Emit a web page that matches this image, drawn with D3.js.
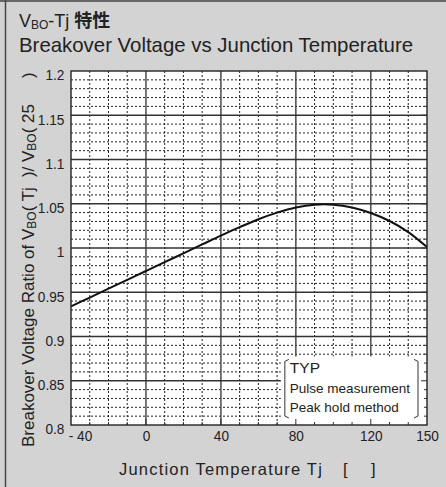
<!DOCTYPE html>
<html>
<head>
<meta charset="utf-8">
<script src="https://d3js.org/d3.v7.min.js"></script>
<style>
  body { margin: 0; background: #d3d3d3; }
  svg { display: block; font-family: "Liberation Sans", Arial, sans-serif; }
  text { white-space: pre; }
</style>
</head>
<body>
<script>
// temperature (deg C) and VBO(Tj)/VBO(25) ratio
var temps  = [-40, -30, -20, -10, 0, 10, 20, 30, 40, 50, 60, 70, 80, 90, 100, 110, 120, 130, 140, 150];
var ratios = [0.934, 0.944, 0.954, 0.964, 0.974, 0.984, 0.994, 1.004, 1.014, 1.0235,
              1.0325, 1.0400, 1.0458, 1.0490, 1.0490, 1.0458, 1.0395, 1.0305, 1.0180, 1.0010];
var xTicks = [-40, 0, 40, 80, 120, 150];
var yTicks = [0.8, 0.85, 0.9, 0.95, 1, 1.05, 1.1, 1.15, 1.2];
var legendLines = ["TYP", "Pulse measurement", "Peak hold method"];

var width = 446, height = 487;

var svg = d3.select("body").append("svg")
    .attr("width", width)
    .attr("height", height);

// outer frame
svg.append("rect").attr("width", width).attr("height", height).attr("fill", "#d3d3d3");
svg.append("line").attr("x1", 0).attr("x2", width).attr("y1", 1).attr("y2", 1)
    .attr("stroke", "#444").attr("stroke-width", 1.5);
svg.append("line").attr("x1", 5.5).attr("x2", 5.5).attr("y1", 0).attr("y2", height)
    .attr("stroke", "#444").attr("stroke-width", 1.5);

var x = d3.scaleLinear().domain([-40, 150]).range([71, 427]);
var y = d3.scaleLinear().domain([0.8, 1.2]).range([425, 71]);

// titles
var t1 = svg.append("text").attr("x", 19).attr("y", 27).attr("font-size", 18).attr("fill", "#222");
t1.append("tspan").text("V");
t1.append("tspan").attr("font-size", 12).attr("dy", 2).text("BO");
t1.append("tspan").attr("dy", -2).text("-Tj ");
t1.append("tspan").attr("font-weight", "bold")
  .attr("font-family", "'Noto Sans CJK JP', sans-serif").text("特性");

svg.append("text").attr("x", 19).attr("y", 52).attr("font-size", 20.4).attr("fill", "#222")
  .text("Breakover Voltage vs Junction Temperature");

// plot background
svg.append("rect")
  .attr("x", x(-40)).attr("y", y(1.2))
  .attr("width", x(150) - x(-40)).attr("height", y(0.8) - y(1.2))
  .attr("fill", "#fff");

var grid = svg.append("g");
var minorX = d3.range(-30, 150, 10).filter(function(d) { return d % 40 !== 0; });
var majorX = [0, 40, 80, 120];
var minorY = d3.range(81, 120).filter(function(d) { return d % 5 !== 0; }).map(function(d) { return d / 100; });
var majorY = [0.85, 0.9, 0.95, 1, 1.05, 1.1, 1.15];

grid.selectAll(".mx").data(minorX).enter().append("line")
  .attr("x1", d => x(d)).attr("x2", d => x(d))
  .attr("y1", y(1.2)).attr("y2", y(0.8))
  .attr("stroke", "#222").attr("stroke-width", 1).attr("stroke-dasharray", "2,2");
grid.selectAll(".my").data(minorY).enter().append("line")
  .attr("x1", x(-40)).attr("x2", x(150))
  .attr("y1", d => y(d)).attr("y2", d => y(d))
  .attr("stroke", "#222").attr("stroke-width", 1).attr("stroke-dasharray", "2,2");
grid.selectAll(".MX").data(majorX).enter().append("line")
  .attr("x1", d => x(d)).attr("x2", d => x(d))
  .attr("y1", y(1.2)).attr("y2", y(0.8))
  .attr("stroke", "#555").attr("stroke-width", 1.6);
grid.selectAll(".MY").data(majorY).enter().append("line")
  .attr("x1", x(-40)).attr("x2", x(150))
  .attr("y1", d => y(d)).attr("y2", d => y(d))
  .attr("stroke", "#333").attr("stroke-width", 1.4);

// legend box covers the grid
var lx0 = x(72), ly0 = y(0.8775);
svg.append("rect")
  .attr("x", lx0).attr("y", ly0)
  .attr("width", x(150) - lx0).attr("height", y(0.8) - ly0)
  .attr("fill", "#fff");

// inner ticks along bottom and right edges
svg.selectAll(".bt").data(d3.range(-30, 150, 10)).enter().append("line")
  .attr("x1", d => x(d)).attr("x2", d => x(d))
  .attr("y1", y(0.8)).attr("y2", d => y(0.8) - (d % 40 === 0 ? 6 : 3))
  .attr("stroke", "#333").attr("stroke-width", 1);
svg.selectAll(".rt").data(d3.range(81, 120).map(d => d / 100)).enter().append("line")
  .attr("x1", x(150)).attr("x2", d => x(150) - (Math.round(d * 100) % 5 === 0 ? 6 : 3))
  .attr("y1", d => y(d)).attr("y2", d => y(d))
  .attr("stroke", "#333").attr("stroke-width", 1);

// legend brackets and text
var bl = x(72) + 4, br = x(150) - 9, bt = ly0 + 3, bb = y(0.8) - 7;
svg.append("path")
  .attr("d", "M" + (bl + 4) + "," + bt + " L" + bl + "," + (bt + 2) + " L" + bl + "," + (bb - 2) + " L" + (bl + 4) + "," + bb)
  .attr("fill", "none").attr("stroke", "#333").attr("stroke-width", 1);
svg.append("path")
  .attr("d", "M" + (br - 4) + "," + bt + " L" + br + "," + (bt + 2) + " L" + br + "," + (bb - 2) + " L" + (br - 4) + "," + bb)
  .attr("fill", "none").attr("stroke", "#333").attr("stroke-width", 1);
svg.selectAll(".leg").data(legendLines).enter().append("text")
  .attr("x", bl + 5)
  .attr("y", (d, i) => bt + 14 + i * 19.5)
  .attr("font-size", (d, i) => i === 0 ? 15.5 : 13.5)
  .attr("fill", "#222")
  .text(d => d);

// curve
var line = d3.line()
  .x((d, i) => x(temps[i]))
  .y(d => y(d))
  .curve(d3.curveCatmullRom);
svg.append("path")
  .datum(ratios)
  .attr("d", line)
  .attr("fill", "none")
  .attr("stroke", "#111")
  .attr("stroke-width", 2);

// plot frame
svg.append("rect")
  .attr("x", x(-40)).attr("y", y(1.2))
  .attr("width", x(150) - x(-40)).attr("height", y(0.8) - y(1.2))
  .attr("fill", "none").attr("stroke", "#222").attr("stroke-width", 1.4);

// axes labels
var yAxis = svg.append("g")
  .attr("transform", "translate(" + (x(-40) - 4) + ",4)")
  .call(d3.axisLeft(y).tickValues(yTicks).tickSize(0).tickFormat(d3.format("")));
yAxis.select(".domain").remove();
yAxis.selectAll("text").attr("font-size", 15.5).attr("fill", "#222")
  .attr("font-family", null)
  .attr("transform", "scale(0.88,1)");

var xAxis = svg.append("g")
  .attr("transform", "translate(0," + y(0.8) + ")")
  .call(d3.axisBottom(x).tickValues(xTicks).tickSize(0).tickFormat(d3.format("")));
xAxis.select(".domain").remove();
xAxis.selectAll("text").attr("font-size", 15.5).attr("fill", "#222")
  .attr("font-family", null).attr("dy", "0.85em")
  .attr("transform", d => "translate(" + (d === -40 ? 9 : 0) + ",0) scale(0.88,1)")
  .text(d => d < 0 ? "- " + Math.abs(d) : d);

// axis titles
svg.append("text")
  .attr("x", 119).attr("y", 475)
  .attr("font-size", 16.5).attr("letter-spacing", 1.2)
  .attr("fill", "#222")
  .text("Junction Temperature Tj");
svg.append("text").attr("x", 343).attr("y", 475).attr("font-size", 16.5).attr("fill", "#222").text("[");
svg.append("text").attr("x", 371).attr("y", 475).attr("font-size", 16.5).attr("fill", "#222").text("]");

var yl = svg.append("text")
  .attr("transform", "translate(34,447) rotate(-90)")
  .attr("font-size", 17)
  .attr("fill", "#222");
yl.append("tspan").text("Breakover Voltage Ratio of V");
yl.append("tspan").attr("font-size", 12).attr("dy", 2).text("BO");
yl.append("tspan").attr("dy", -2).text("( Tj");
yl.append("tspan").attr("dx", 10).text(")/ V");
yl.append("tspan").attr("font-size", 12).attr("dy", 2).text("BO");
yl.append("tspan").attr("dy", -2).text("( 25");
yl.append("tspan").attr("dx", 26).text(")");
</script>
</body>
</html>
